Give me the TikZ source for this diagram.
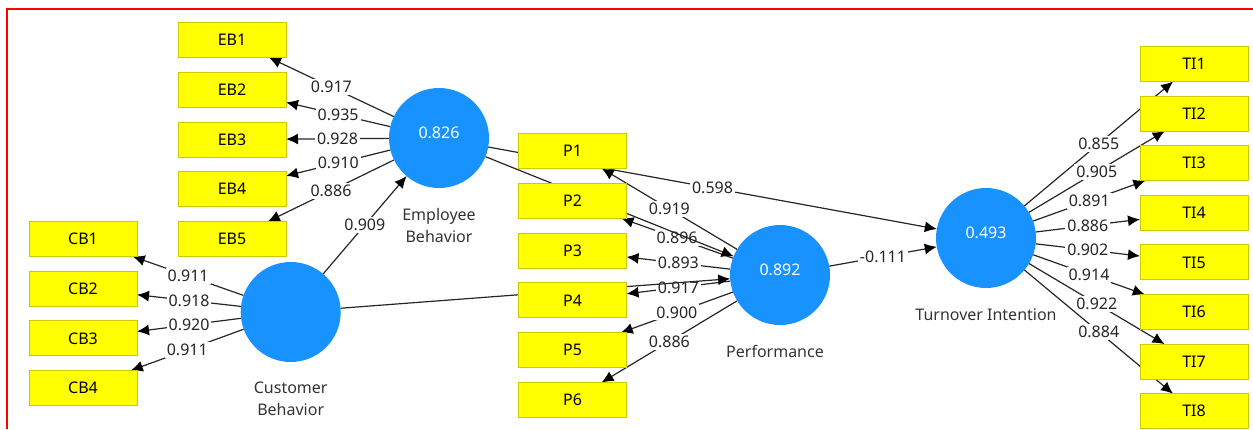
\documentclass[tikz,border=0pt]{standalone}
\usepackage{fontspec}
\setmainfont{Noto Sans}
\usetikzlibrary{arrows.meta,backgrounds}

\definecolor{lvblue}{RGB}{24,146,255}
\definecolor{mvyellow}{RGB}{255,255,0}
\definecolor{mvedge}{RGB}{205,200,0}

\begin{document}
\begin{tikzpicture}[x=0.5pt,y=-0.5pt,
    font=\fontsize{8}{11}\selectfont,
    indicator/.style={draw=mvedge,line width=0.5pt,fill=mvyellow,minimum width=54pt,
        minimum height=17.5pt,inner sep=0pt,outer sep=0pt},
    construct/.style={circle,fill=lvblue,minimum size=50pt,inner sep=0pt,outer sep=0pt},
    value/.style={text=white,yshift=2.5pt},
    lvname/.style={align=center,inner sep=0pt,text=black!80,yshift=-10pt},
    path/.style={draw=black!85,line width=0.6pt,-{Latex[length=6pt,width=5.5pt,color=black]}},
    coef/.style={fill=white,inner sep=1pt,text=black!85}]

\useasboundingbox (0,0) rectangle (1253,429);
\draw[red,line width=1pt] (7,429) -- (7,9) -- (1253,9);

% latent variables
\node[construct,label={[value]center:0.826},
      label={[lvname]below:Employee\\Behavior}] (eb) at (439,138) {};
\node[construct,label={[lvname]below:Customer\\Behavior}] (cb) at (290.7,312) {};
\node[construct,label={[value]center:0.892},
      label={[lvname,xshift=-2.5pt]below:Performance}] (perf) at (780,275) {};
\node[construct,label={[value]center:0.493},
      label={[lvname]below:Turnover Intention}] (ti) at (986,238) {};

% indicators
\foreach \i in {1,...,5}
    \node[indicator] (eb\i) at (232,{40+49.75*(\i-1)}) {EB\i};
\foreach \i in {1,...,4}
    \node[indicator] (cb\i) at (83,{239+49.67*(\i-1)}) {CB\i};
\foreach \i in {1,...,6}
    \node[indicator] (p\i) at (572.5,{151+49.8*(\i-1)}) {P\i};
\foreach \i in {1,...,8}
    \node[indicator] (ti\i) at (1194,{64+49.6*(\i-1)}) {TI\i};

\begin{pgfonlayer}{background}
% outer loadings
\foreach \i/\v in {1/0.917,2/0.935,3/0.928,4/0.910,5/0.886}
    \draw[path] (eb) -- node[coef] {\v} (eb\i);
\foreach \i/\v in {1/0.911,2/0.918,3/0.920,4/0.911}
    \draw[path] (cb) -- node[coef] {\v} (cb\i);
\foreach \i/\v in {1/0.919,2/0.896,3/0.893,4/0.917,5/0.900,6/0.886}
    \draw[path] (perf) -- node[coef] {\v} (p\i);
\foreach \i/\v in {1/0.855,2/0.905,3/0.891,4/0.886,5/0.902,6/0.914,7/0.922,8/0.884}
    \draw[path] (ti) -- node[coef] {\v} (ti\i);

% inner model
\draw[path] (cb) -- node[coef] {0.909} (eb);
\draw[path] (eb) -- node[coef] {0.598} (ti);
\draw[path] (perf) -- node[coef] {-0.111} (ti);
\draw[path] (eb) -- (perf);
\draw[path] (cb) -- (perf);
\end{pgfonlayer}
\end{tikzpicture}
\end{document}
